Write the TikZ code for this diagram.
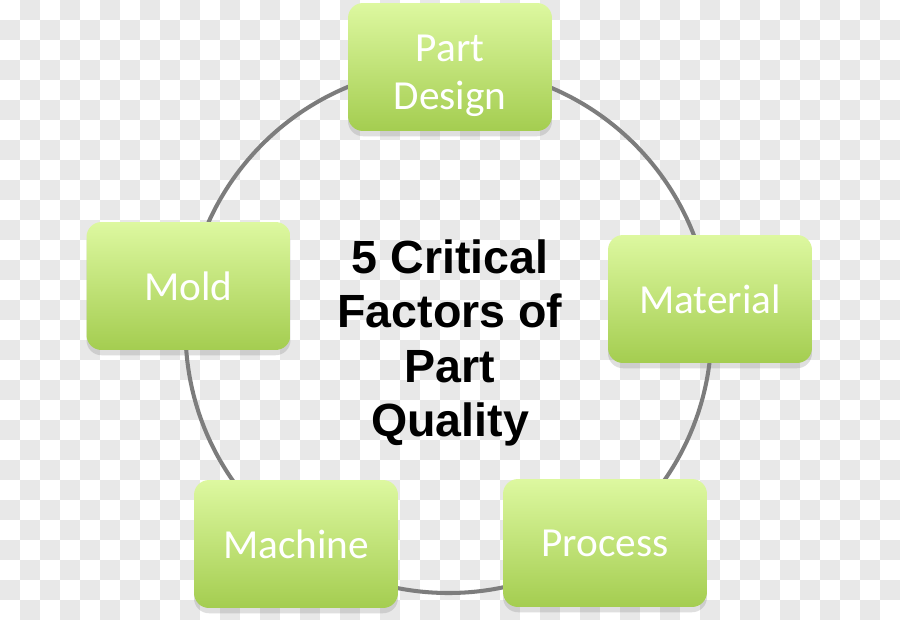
\documentclass[tikz,border=0pt]{standalone}
\usepackage{fontspec}
\setmainfont{Carlito}
\newfontfamily\headfont{Liberation Sans}
\usepackage{tikz}
\usetikzlibrary{shadows}

\definecolor{boxtop}{RGB}{221,248,160}
\definecolor{boxbot}{RGB}{164,205,80}
\definecolor{ringgray}{RGB}{125,125,125}
\definecolor{checkgray}{RGB}{232,232,232}

\tikzset{
	critbox/.style={rounded corners=0.3cm, top color=boxtop, bottom color=boxbot,
		minimum width=4.08cm, minimum height=2.56cm, inner sep=0pt, align=center,
		text=white, font=\fontsize{23.5}{27}\selectfont,
		drop shadow={shadow xshift=0pt, shadow yshift=-3pt, opacity=0.25}},
	ring/.style={draw=ringgray, line width=2.3pt}
}

\begin{document}
\begin{tikzpicture}[x=0.02cm,y=-0.02cm]
		\useasboundingbox (0,0) rectangle (900,620);
		% Background
		\fill[white] (0,0) rectangle (900,620);
		\foreach \j in {0,...,30}{
			\foreach \i in {0,...,44}{
				\ifodd\numexpr\i+\j\relax
					\fill[checkgray] (20*\i,20*\j) rectangle (20*\i+20,20*\j+20);
				\fi
			}
		}

		% Define nodes
		\coordinate (hub) at (448.5,330);
		\draw[ring] (hub) circle [radius=263];
		\node[align=center, font=\headfont\bfseries\fontsize{26.5}{31}\selectfont] (title) at (450,343) {5 Critical\\Factors of\\Part\\Quality};
		\node[critbox] (design) at (450,67) {\rule{0pt}{25pt}Part\\Design};
		\node[critbox] (material) at (710,299) {Material};
		\node[critbox] (process) at (605,543) {Process};
		\node[critbox] (machine) at (296,544) {Machine};
		\node[critbox] (mold) at (188.5,286) {Mold};
	\end{tikzpicture}
\end{document}
